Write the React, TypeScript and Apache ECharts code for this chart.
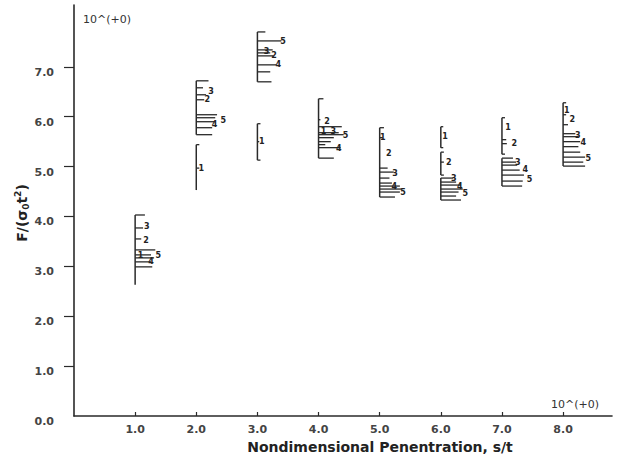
import React, { useEffect, useRef } from "react";
import * as echarts from "echarts";

// Vertical range lines: [x, yLow, yHigh]
const segments: [number, number, number][] = [
  [1, 2.63, 4.03],
  [2, 5.64, 6.72],
  [2, 4.53, 5.44],
  [3, 6.7, 7.7],
  [3, 5.13, 5.86],
  [4, 5.17, 6.36],
  [5, 4.39, 5.78],
  [6, 5.38, 5.8],
  [6, 4.83, 5.29],
  [6, 4.33, 4.77],
  [7, 5.25, 5.98],
  [7, 4.61, 5.17],
  [8, 5.01, 6.28],
];

// Horizontal ticks: [x, y, length along x]
const ticks: [number, number, number][] = [
  // x = 1
  [1, 4.03, 0.16], [1, 3.77, 0.13], [1, 3.55, 0.1], [1, 3.33, 0.33], [1, 3.23, 0.26],
  [1, 3.17, 0.31], [1, 3.09, 0.26], [1, 2.99, 0.28],
  // x = 2
  [2, 6.72, 0.2], [2, 6.58, 0.11], [2, 6.44, 0.16], [2, 6.34, 0.13], [2, 6.04, 0.34],
  [2, 5.98, 0.31], [2, 5.9, 0.29], [2, 5.78, 0.26], [2, 5.64, 0.26], [2, 5.44, 0.05],
  [2, 4.97, 0.05],
  // x = 3
  [3, 7.7, 0.13], [3, 7.52, 0.39], [3, 7.34, 0.25], [3, 7.28, 0.21], [3, 7.22, 0.26],
  [3, 7.04, 0.31], [3, 6.9, 0.21], [3, 6.7, 0.23], [3, 5.86, 0.05], [3, 5.5, 0.03],
  [3, 5.13, 0.05],
  // x = 4
  [4, 6.36, 0.08], [4, 5.94, 0.03], [4, 5.8, 0.38], [4, 5.68, 0.33], [4, 5.64, 0.41],
  [4, 5.58, 0.25], [4, 5.5, 0.2], [4, 5.44, 0.11], [4, 5.38, 0.36], [4, 5.17, 0.25],
  // x = 5
  [5, 5.78, 0.07], [5, 5.58, 0.05], [5, 4.97, 0.13], [5, 4.89, 0.23], [5, 4.77, 0.16],
  [5, 4.67, 0.2], [5, 4.61, 0.33], [5, 4.55, 0.36], [5, 4.49, 0.33], [5, 4.39, 0.25],
  // x = 6
  [6, 5.8, 0.04], [6, 5.38, 0.04], [6, 5.29, 0.05], [6, 5.09, 0.05], [6, 4.83, 0.05],
  [6, 4.77, 0.2], [6, 4.69, 0.25], [6, 4.63, 0.33], [6, 4.55, 0.36], [6, 4.49, 0.29],
  [6, 4.41, 0.25], [6, 4.33, 0.33],
  // x = 7
  [7, 5.98, 0.05], [7, 5.54, 0.07], [7, 5.46, 0.08], [7, 5.25, 0.05], [7, 5.17, 0.18],
  [7, 5.09, 0.23], [7, 5.03, 0.25], [7, 4.93, 0.29], [7, 4.83, 0.36], [7, 4.71, 0.34],
  [7, 4.61, 0.33],
  // x = 8
  [8, 6.28, 0.05], [8, 6.04, 0.05], [8, 5.84, 0.08], [8, 5.66, 0.2], [8, 5.6, 0.25],
  [8, 5.5, 0.28], [8, 5.4, 0.25], [8, 5.29, 0.28], [8, 5.19, 0.36], [8, 5.09, 0.33],
  [8, 5.01, 0.36],
];

// Case labels: [x, y, text]
const labels: [number, number, string][] = [
  [1.19, 3.79, "3"], [1.18, 3.51, "2"], [1.09, 3.21, "1"], [1.26, 3.1, "4"], [1.38, 3.21, "5"],
  [2.24, 6.5, "3"], [2.18, 6.34, "2"], [2.3, 5.84, "4"], [2.44, 5.92, "5"], [2.08, 4.97, "1"],
  [3.42, 7.5, "5"], [3.15, 7.3, "3"], [3.27, 7.23, "2"], [3.34, 7.04, "4"], [3.07, 5.5, "1"],
  [4.14, 5.9, "2"], [4.08, 5.7, "1"], [4.24, 5.71, "3"], [4.44, 5.62, "5"], [4.33, 5.36, "4"],
  [5.05, 5.58, "1"], [5.15, 5.27, "2"], [5.25, 4.87, "3"], [5.24, 4.6, "4"], [5.38, 4.49, "5"],
  [6.07, 5.6, "1"], [6.13, 5.09, "2"], [6.21, 4.77, "3"], [6.31, 4.6, "4"], [6.4, 4.46, "5"],
  [7.1, 5.78, "1"], [7.2, 5.46, "2"], [7.26, 5.08, "3"], [7.38, 4.95, "4"], [7.45, 4.75, "5"],
  [8.06, 6.12, "1"], [8.15, 5.94, "2"], [8.24, 5.62, "3"], [8.33, 5.48, "4"], [8.41, 5.17, "5"],
];

const xTickValues = [1, 2, 3, 4, 5, 6, 7, 8];
const yTickValues = [1, 2, 3, 4, 5, 6, 7];
const yLabelValues = [0, 1, 2, 3, 4, 5, 6, 7];

const FONT = "DejaVu Sans";
const INK = "#2a2a2a";

export default function App() {
  const ref = useRef<HTMLDivElement>(null);
  useEffect(() => {
    if (!ref.current) return;
    const chart = echarts.init(ref.current, undefined, { renderer: "svg" });
    chart.setOption({
      animation: false,
      backgroundColor: "#ffffff",
      grid: { left: 74, right: 5, top: 5, bottom: 46, containLabel: false },
      xAxis: {
        type: "value",
        min: 0,
        max: 8.8,
        splitLine: { show: false },
        axisLine: { show: true, onZero: false, lineStyle: { color: INK, width: 1.6 } },
        axisTick: {
          show: true,
          inside: true,
          length: 4,
          customValues: xTickValues,
          lineStyle: { color: INK, width: 1.2 },
        },
        axisLabel: {
          customValues: xTickValues,
          formatter: (v: number) => v.toFixed(1),
          margin: 8,
          color: "#444",
          fontFamily: FONT,
          fontSize: 11,
          fontWeight: "bold",
        },
      },
      yAxis: {
        type: "value",
        min: 0,
        max: 8.24,
        splitLine: { show: false },
        axisLine: { show: true, onZero: false, lineStyle: { color: INK, width: 1.6 } },
        axisTick: {
          show: true,
          inside: false,
          length: 10,
          customValues: yTickValues,
          lineStyle: { color: INK, width: 1.2 },
        },
        axisLabel: {
          customValues: yLabelValues,
          formatter: (v: number) => v.toFixed(1),
          margin: 20,
          color: "#444",
          fontFamily: FONT,
          fontSize: 11,
          fontWeight: "bold",
          verticalAlign: "top",
        },
      },
      graphic: [
        {
          type: "text",
          x: 83,
          y: 19,
          style: {
            text: "10^(+0)",
            fill: "#333",
            font: `11px "${FONT}"`,
            verticalAlign: "middle",
          },
        },
        {
          type: "text",
          x: 551,
          y: 404,
          style: {
            text: "10^(+0)",
            fill: "#333",
            font: `11px "${FONT}"`,
            verticalAlign: "middle",
          },
        },
        {
          type: "text",
          x: 380,
          y: 447,
          style: {
            text: "Nondimensional Penentration, s/t",
            fill: "#222",
            font: `bold 14px "${FONT}"`,
            align: "center",
            verticalAlign: "middle",
          },
        },
        {
          type: "text",
          x: 22,
          y: 213,
          rotation: Math.PI / 2,
          style: {
            text: "{a|F/(σ}{s|0}{a|t}{p|2}{a|)}",
            align: "center",
            verticalAlign: "middle",
            rich: {
              a: { fontFamily: FONT, fontSize: 14, fontWeight: "bold", fill: "#222" },
              s: { fontFamily: FONT, fontSize: 9, fontWeight: "bold", fill: "#222", padding: [7, 0, 0, 0] },
              p: { fontFamily: FONT, fontSize: 9, fontWeight: "bold", fill: "#222", padding: [0, 0, 8, 0] },
            },
          },
        },
      ],
      series: [
        {
          type: "custom",
          name: "ranges",
          silent: true,
          data: segments,
          renderItem: (params: any, api: any) => {
            const p1 = api.coord([api.value(0), api.value(1)]);
            const p2 = api.coord([api.value(0), api.value(2)]);
            return {
              type: "line",
              shape: { x1: p1[0], y1: p1[1], x2: p2[0], y2: p2[1] },
              style: { stroke: INK, lineWidth: 1.5 },
            };
          },
        },
        {
          type: "custom",
          name: "ticks",
          silent: true,
          data: ticks,
          renderItem: (params: any, api: any) => {
            const x = api.value(0);
            const y = api.value(1);
            const p1 = api.coord([x, y]);
            const p2 = api.coord([x + api.value(2), y]);
            return {
              type: "line",
              shape: { x1: p1[0], y1: p1[1], x2: p2[0], y2: p2[1] },
              style: { stroke: INK, lineWidth: 1.3 },
            };
          },
        },
        {
          type: "custom",
          name: "labels",
          silent: true,
          data: labels.map((l) => [l[0], l[1]]),
          renderItem: (params: any, api: any) => {
            const p = api.coord([api.value(0), api.value(1)]);
            return {
              type: "text",
              x: p[0],
              y: p[1],
              style: {
                text: labels[params.dataIndex][2],
                fill: "#222",
                font: `bold 8px "${FONT}"`,
                align: "center",
                verticalAlign: "middle",
              },
            };
          },
        },
      ],
    });
    return () => chart.dispose();
  }, []);
  return (
    <div
      ref={ref}
      style={{ position: "fixed", left: 0, top: 0, width: 617, height: 462, background: "#fff" }}
    />
  );
}
